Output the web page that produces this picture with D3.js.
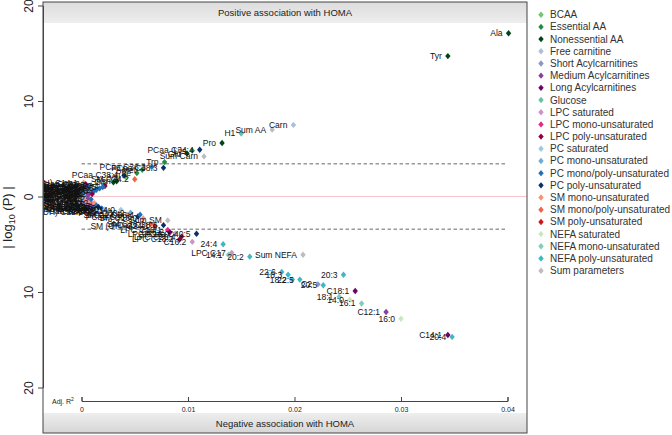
<!DOCTYPE html>
<html><head><meta charset="utf-8">
<script src="https://cdn.jsdelivr.net/npm/d3@7"></script>
<style>
html,body{margin:0;padding:0;background:#fff;}
svg{display:block;font-family:"Liberation Sans",Arial,sans-serif;}
</style></head>
<body>
<svg id="chart" width="672" height="435"></svg>
<script>
// ---------- DATA ----------
const groupNames = ["BCAA","Essential AA","Nonessential AA","Free carnitine","Short Acylcarnitines","Medium Acylcarnitines","Long Acylcarnitines","Glucose","LPC saturated","LPC mono-unsaturated","LPC poly-unsaturated","PC saturated","PC mono-unsaturated","PC mono/poly-unsaturated","PC poly-unsaturated","SM mono-unsaturated","SM mono/poly-unsaturated","SM poly-unsaturated","NEFA saturated","NEFA mono-unsaturated","NEFA poly-unsaturated","Sum parameters"];
const groupColors = ["#74c476","#238b45","#00441b","#a9bfdc","#8c96c6","#88419d","#6e016b","#66c2a4","#c994c7","#e7298a","#91003f","#9ecae1","#6baed6","#2171b5","#08306b","#fc9272","#ef6548","#cb181d","#c7e9c0","#7fcdbb","#41b6c4","#bdbdbd"];

const metNames = [
 "Ala","Tyr","Carn","Sum AA","H1","Pro","Sum Carn","PCaa C34:4","Lys","Glu","Trp","PCaa C38:3","PCaa C36:3","Met","Phe","Val","SM C24:2","Asn","PCaa C38:4","Gln","lysoPC a C20:4",
 "PCaa C36:5","PCaa C38:5","PCae C36:2","PCaa C34:3","PCae C34:3","PCaa C32:1","PCae C38:4",
 "SM (OH) C14:1","lysoPC a C20:3","PCae C42:2","PCaa C40:2","PCae C38:3","SM C16:1","C3","PCaa C32:0","PCaa C36:1","lysoPC a C16:1","PCae C34:2","C5","PCaa C30:0","C10","PCae C30:0","lysoPC a C18:2",
 "PCaa C34:1","PCae C32:1","PCae C36:1","C9","PCaa C42:1",
 "Sum PC","PCae C44:4","PCae C38:0","C6 (C4:1-DC)","PCae C40:1","SM C18:1","lysoPC a C18:0","C4","PCaa C24:0","lysoPC a C18:1","SM C20:2","PCae C40:5","PCaa C40:6","C8","PCae C38:6","C16","SM (OH) C22:1","PCaa C26:0","PCae C36:0","PCaa C28:1",
 "SM C18:0","lysoPC a C14:0","C7-DC","PCae C42:3","PCaa C42:4","PCae C32:2",
 "PCae C34:0","PCaa C30:2","SM C24:1","PCaa C36:6","PCae C36:4","SM C16:0","Sum SM","SM C26:1","SM (OH) C24:1","PCaa C38:6","LPC C18:1","C18:2","LPC C20:4","LPC C16:0","PCaa C40:5","C16:2","LPC C18:2",
 "24:4","LPC C17","14:1","20:2","Sum NEFA","22:6","18:3","18:2","22:5","C2","20:5","20:3","C18:1","18:1","14:0","16:1","C12:1","16:0","C14:1","20:4"
];
const metGroups = [
 2,2,3,21,7,2,21,14,1,2,1,14,13,1,1,0,16,2,14,2,10,
 13,13,13,13,13,12,13,
 15,10,12,13,13,15,4,11,12,9,13,4,11,5,11,10,
 12,12,12,5,12,
 21,12,11,5,12,15,8,4,11,9,15,13,14,5,13,6,15,11,11,12,
 15,8,5,13,14,13,
 11,12,15,14,13,15,21,16,17,14,9,6,10,8,14,8,10,
 20,8,19,20,21,20,20,20,20,4,20,20,6,19,18,19,5,18,6,20
];
const metR2 = [
 0.0401,0.0344,0.0199,0.0179,0.0150,0.0132,0.0115,0.0111,0.0104,0.0099,0.0078,0.0077,0.0066,0.0057,0.0052,0.0042,0.0050,0.0033,0.0040,0.0030,0.0022,
 0.0020,0.0017,0.0014,0.0012,0.0009,0.0006,0.0004,
 0.0002,0.0004,0.0001,0.0006,0.0009,0.0003,0.0005,0.0008,0.0002,0.0004,0.0007,0.0001,0.0003,0.0006,0.0001,0.0010,
 0.0005,0.0002,0.0008,0.0003,0.0001,
 0.0000,0.0002,0.0004,0.0006,0.0003,0.0008,0.0006,0.0002,0.0004,0.0010,0.0012,0.0014,0.0016,0.0005,0.0019,0.0009,0.0007,0.0013,0.0022,0.0026,
 0.0003,0.0001,0.0007,0.0011,0.0004,0.0009,
 0.0037,0.0046,0.0043,0.0053,0.0055,0.0058,0.0081,0.0065,0.0069,0.0077,0.0081,0.0083,0.0094,0.0088,0.0108,0.0104,0.0092,
 0.0133,0.0141,0.0138,0.0158,0.0208,0.0188,0.0194,0.0198,0.0205,0.0222,0.0227,0.0246,0.0257,0.0242,0.0252,0.0263,0.0286,0.0300,0.0344,0.0348
];
const metLogP = [
 17.1,14.7,7.5,7.0,6.6,5.6,4.2,4.9,4.8,4.5,3.6,3.0,3.1,2.8,2.45,2.0,1.8,1.6,2.2,1.5,1.1,
 1.0,0.85,0.7,0.6,0.45,0.3,0.2,
 1.45,1.3,1.2,1.0,1.15,0.9,0.75,0.8,0.55,0.45,0.35,0.3,0.15,0.1,0.05,0.25,
 0.6,0.75,0.95,1.05,0.4,
 -0.15,-0.05,-0.3,-0.2,-0.5,-0.55,-0.75,-0.8,-1.0,-0.85,-0.7,-0.95,-1.1,-1.25,-1.25,-1.45,-1.6,-1.5,-1.35,-1.5,
 -0.4,-0.6,-1.05,-1.2,-1.35,-0.3,
 -1.4,-1.7,-1.9,-2.1,-1.9,-2.3,-2.5,-2.9,-3.1,-3.0,-3.5,-3.75,-4.2,-3.9,-3.9,-4.75,-4.5,
 -5.0,-5.9,-6.1,-6.3,-6.1,-7.9,-8.2,-8.7,-8.7,-9.2,-9.3,-8.2,-9.9,-10.5,-10.8,-11.2,-12.1,-12.8,-14.5,-14.7
];
const xTicks = [0,0.01,0.02,0.03,0.04];
const xTickLabels = ["0","0.01","0.02","0.03","0.04"];
const yTicks = [-20,-10,0,10,20];
const sigThreshold = 3.42;
const topBannerText = "Positive association with HOMA";
const bottomBannerText = "Negative association with HOMA";

// ---------- LAYOUT ----------
const svg = d3.select("#chart");
const box = {l:43, r:527, t:2, b:433};
const x = d3.scaleLinear().domain([0,0.04]).range([81.5,507.5]);
const y = d3.scaleLinear().domain([-20,20]).range([387.5,5.5]);

const defs = svg.append("defs");
defs.append("clipPath").attr("id","clip").append("rect")
  .attr("x",box.l).attr("y",box.t).attr("width",box.r-box.l).attr("height",box.b-box.t);
const g1 = defs.append("linearGradient").attr("id","gTop").attr("x1",0).attr("y1",0).attr("x2",0).attr("y2",1);
g1.append("stop").attr("offset","0%").attr("stop-color","#dcdcdc");
g1.append("stop").attr("offset","100%").attr("stop-color","#eeeeee");
const g2 = defs.append("linearGradient").attr("id","gBot").attr("x1",0).attr("y1",0).attr("x2",0).attr("y2",1);
g2.append("stop").attr("offset","0%").attr("stop-color","#eeeeee");
g2.append("stop").attr("offset","100%").attr("stop-color","#d6d6d6");

const plot = svg.append("g").attr("clip-path","url(#clip)");

// banners
plot.append("rect").attr("x",box.l).attr("y",box.t).attr("width",box.r-box.l).attr("height",21).attr("fill","url(#gTop)");
plot.append("rect").attr("x",box.l).attr("y",413).attr("width",box.r-box.l).attr("height",box.b-413).attr("fill","url(#gBot)");
svg.append("text").attr("x",(box.l+box.r)/2).attr("y",16).attr("text-anchor","middle")
  .attr("font-size",9.5).attr("fill","#222").text(topBannerText);
svg.append("text").attr("x",(box.l+box.r)/2).attr("y",427).attr("text-anchor","middle")
  .attr("font-size",9.5).attr("fill","#222").text(bottomBannerText);

// zero line
plot.append("line").attr("x1",box.l).attr("x2",box.r).attr("y1",y(0)).attr("y2",y(0))
  .attr("stroke","#f7c6cc").attr("stroke-width",1);
// significance lines
[sigThreshold,-sigThreshold].forEach(v=>{
  plot.append("line").attr("x1",x(0)).attr("x2",x(0.04)).attr("y1",y(v)).attr("y2",y(v))
    .attr("stroke","#555").attr("stroke-width",0.9).attr("stroke-dasharray","3.5,2.5");
});

const diamond = "M0,-3.2L2.7,0L0,3.2L-2.7,0Z";
const data = metNames.map((n,i)=>({name:n, grp:metGroups[i], r2:metR2[i], lp:metLogP[i]}));

plot.append("g").selectAll("path").data(data).join("path")
  .attr("d",diamond)
  .attr("transform",d=>`translate(${x(d.r2)},${y(d.lp)})`)
  .attr("fill",d=>groupColors[d.grp]);

plot.append("g").selectAll("text").data(data).join("text")
  .attr("x",d=>x(d.r2)-6).attr("y",d=>y(d.lp)).attr("dy","0.35em")
  .attr("text-anchor","end").attr("font-size",8.5).attr("fill","#111")
  .text(d=>d.name);

// x axis (inside plot)
const xAxis = d3.axisBottom(x).tickValues(xTicks).tickFormat((d,i)=>xTickLabels[i])
  .tickSizeInner(-4).tickSizeOuter(-4).tickPadding(6);
const xg = svg.append("g").attr("transform","translate(0,401)").call(xAxis);
xg.select(".domain").attr("stroke","#444");
xg.selectAll(".tick line").attr("stroke","#444");
xg.selectAll("text").attr("font-size",7).attr("fill","#222").attr("font-family","Liberation Sans, Arial, sans-serif");
const adj = svg.append("text").attr("x",52).attr("y",404).attr("font-size",7).attr("fill","#222");
adj.append("tspan").text("Adj. R");
adj.append("tspan").attr("font-size",5).attr("dy",-3).text("2");

// y axis
const yAxis = d3.axisLeft(y).tickValues(yTicks).tickFormat(d=>Math.abs(d)).tickSizeOuter(0).tickSizeInner(5);
const yg = svg.append("g").attr("transform",`translate(${box.l},0)`).call(yAxis);
yg.select(".domain").attr("stroke","#444");
yg.selectAll(".tick line").attr("stroke","#444");
yg.selectAll("text").attr("transform","rotate(-90)").attr("x",0).attr("y",-10).attr("dy",0)
  .attr("text-anchor","middle").attr("font-size",12).attr("fill","#222")
  .attr("font-family","Liberation Sans, Arial, sans-serif");

// y label
const yl = svg.append("text").attr("transform",`translate(12,${(box.t+box.b)/2}) rotate(-90)`)
  .attr("text-anchor","middle").attr("font-size",13).attr("fill","#222");
yl.append("tspan").text("| log");
yl.append("tspan").attr("font-size",9).attr("dy",3).text("10");
yl.append("tspan").attr("dy",-3).text(" (P) |");

// box
svg.append("rect").attr("x",box.l).attr("y",box.t).attr("width",box.r-box.l).attr("height",box.b-box.t)
  .attr("fill","none").attr("stroke","#444").attr("stroke-width",1);

// legend
const leg = svg.append("g");
const legItems = leg.selectAll("g").data(groupNames).join("g")
  .attr("transform",(d,i)=>`translate(541,${14.7+i*12.19})`);
legItems.append("path").attr("d",diamond).attr("fill",(d,i)=>groupColors[i]);
legItems.append("text").attr("x",9).attr("dy","0.35em").attr("font-size",10).attr("fill","#333").text(d=>d);
</script>
</body></html>
